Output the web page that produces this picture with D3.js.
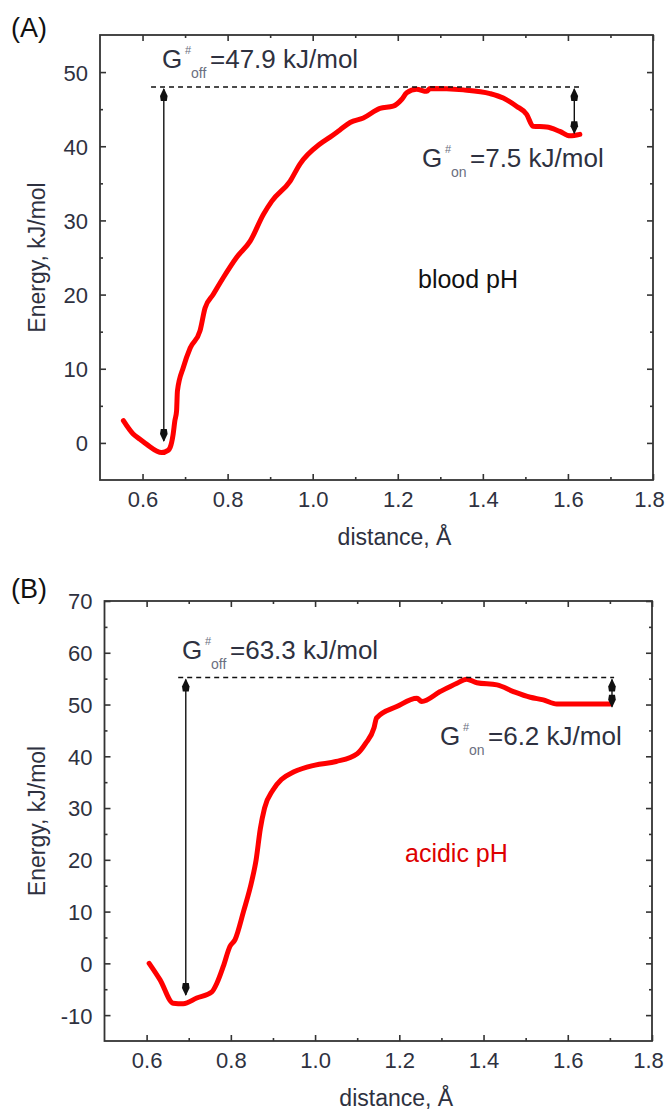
<!DOCTYPE html>
<html>
<head>
<meta charset="utf-8">
<script src="https://cdn.jsdelivr.net/npm/d3@7"></script>
<style>
  body { margin: 0; background: #fff; }
  text { font-family: "Liberation Sans", Arial, sans-serif; }
</style>
</head>
<body>
<svg id="chart" width="667" height="1111"></svg>
<script>
// ---- data ----
const distA = [0.555, 0.578, 0.594, 0.61, 0.645, 0.66, 0.665, 0.672, 0.676, 0.68, 0.682, 0.696, 0.712, 0.735, 0.747, 0.766, 0.79, 0.821, 0.853, 0.884, 0.904, 0.947, 0.97, 1.017, 1.04, 1.064, 1.088, 1.119, 1.158, 1.189, 1.209, 1.221, 1.244, 1.268, 1.276, 1.354, 1.417, 1.448, 1.479, 1.503, 1.518, 1.55, 1.581, 1.605, 1.628];
const energyA = [3.0, 1.2, 0.5, -0.2, -1.3, -1.0, -0.6, 1.2, 3.0, 4.3, 7.0, 10.2, 12.8, 15.1, 18.2, 20.0, 22.3, 25.0, 27.2, 30.8, 32.6, 35.3, 37.6, 40.3, 41.2, 42.2, 43.2, 43.8, 45.1, 45.4, 46.3, 47.2, 47.7, 47.4, 47.8, 47.6, 47.1, 46.5, 45.4, 44.3, 42.7, 42.6, 42.0, 41.4, 41.6];

const distB = [0.606, 0.632, 0.663, 0.687, 0.719, 0.755, 0.767, 0.782, 0.798, 0.81, 0.83, 0.85, 0.86, 0.87, 0.88, 0.9, 0.92, 0.95, 1.0, 1.05, 1.1, 1.12, 1.14, 1.146, 1.194, 1.242, 1.253, 1.297, 1.337, 1.36, 1.384, 1.432, 1.471, 1.511, 1.542, 1.574, 1.701];
const energyB = [0.0, -3.2, -7.7, -7.8, -6.7, -5.5, -3.8, -0.6, 3.3, 4.6, 10, 16, 20, 26, 30, 33.5, 35.5, 37, 38.3, 39, 40.5, 42.5, 45.5, 47.4, 49.6, 51.2, 50.6, 52.5, 54.1, 54.9, 54.2, 53.8, 52.5, 51.4, 50.9, 50.1, 50.1];

const xTicks = [0.6, 0.8, 1.0, 1.2, 1.4, 1.6, 1.8];
const xMinor = [0.7, 0.9, 1.1, 1.3, 1.5, 1.7];
const yTicksA = [0, 10, 20, 30, 40, 50];
const yMinorA = [5, 15, 25, 35, 45];
const yTicksB = [-10, 0, 10, 20, 30, 40, 50, 60, 70];
const yMinorB = [-5, 5, 15, 25, 35, 45, 55, 65];

// barrier annotations: [dash level, dash start, dash end, left arrow x, left arrow bottom, right arrow x, right arrow bottom]
const barrierA = [48.0, 0.62, 1.635, 0.65, 0.0, 1.615, 41.5];
const barrierB = [55.2, 0.675, 1.71, 0.693, -6.5, 1.705, 49.2];
const labelsA = ["47.9", "7.5"];
const labelsB = ["63.3", "6.2"];

const svg = d3.select("#chart");
const ink = "#2e3140";

function drawPanel(p) {
  const x = d3.scaleLinear().domain([0.5, 1.8]).range([p.left, p.right]);
  const y = d3.scaleLinear().domain(p.yDomain).range([p.bottom, p.top]);
  const g = svg.append("g");

  // ticks on all four sides, pointing inward
  const fmtX = d3.format(".1f");
  const bottom = g.append("g").attr("transform", `translate(0,${p.bottom})`)
    .call(d3.axisBottom(x).tickValues(xTicks).tickSize(-6).tickPadding(11).tickFormat(fmtX));
  g.append("g").attr("transform", `translate(0,${p.bottom})`)
    .call(d3.axisBottom(x).tickValues(xMinor).tickSize(-3).tickFormat(""));
  g.append("g").attr("transform", `translate(0,${p.top})`)
    .call(d3.axisTop(x).tickValues(xTicks).tickSize(-6).tickFormat(""));
  g.append("g").attr("transform", `translate(0,${p.top})`)
    .call(d3.axisTop(x).tickValues(xMinor).tickSize(-3).tickFormat(""));
  const left = g.append("g").attr("transform", `translate(${p.left},0)`)
    .call(d3.axisLeft(y).tickValues(p.yTicks).tickSize(-6).tickPadding(12).tickFormat(d => String(d)));
  g.append("g").attr("transform", `translate(${p.left},0)`)
    .call(d3.axisLeft(y).tickValues(p.yMinor).tickSize(-3).tickFormat(""));
  g.append("g").attr("transform", `translate(${p.right},0)`)
    .call(d3.axisRight(y).tickValues(p.yTicks).tickSize(-6).tickFormat(""));
  g.append("g").attr("transform", `translate(${p.right},0)`)
    .call(d3.axisRight(y).tickValues(p.yMinor).tickSize(-3).tickFormat(""));

  g.selectAll(".domain").remove();
  g.selectAll(".tick line").attr("stroke", "#333").attr("stroke-width", 1.6);
  g.selectAll(".tick text").attr("fill", ink).style("font-size", "22px")
    .style("font-family", "'Liberation Sans', Arial, sans-serif");
  left.selectAll(".tick text").attr("dy", "0.36em");
  // last label sits on the frame corner, keep it inside the page
  bottom.selectAll(".tick text").filter(d => d === 1.8).attr("dx", "-4");

  g.append("rect")
    .attr("x", p.left).attr("y", p.top)
    .attr("width", p.right - p.left).attr("height", p.bottom - p.top)
    .attr("fill", "none").attr("stroke", "#333").attr("stroke-width", 1.8);

  // axis titles
  g.append("text").attr("x", (p.left + p.right) / 2 + 18).attr("y", p.bottom + 65)
    .attr("text-anchor", "middle").attr("fill", ink).style("font-size", "23px")
    .text("distance, Å");
  g.append("text")
    .attr("transform", `translate(45,${(p.top + p.bottom) / 2}) rotate(-90)`)
    .attr("text-anchor", "middle").attr("fill", ink).style("font-size", "23px")
    .text("Energy, kJ/mol");
  g.append("text").attr("x", 11).attr("y", p.tag[1]).attr("fill", "#111")
    .style("font-size", "27px").text(p.tag[0]);

  // energy curve
  const line = d3.line().x((d, i) => x(p.xs[i])).y(d => y(d)).curve(d3.curveMonotoneX);
  g.append("path").datum(p.ys)
    .attr("d", line)
    .attr("fill", "none").attr("stroke", "#ff0000")
    .attr("stroke-width", 5).attr("stroke-linejoin", "round").attr("stroke-linecap", "round");

  // dashed reference line and arrows
  const b = p.barrier;
  g.append("line")
    .attr("x1", x(b[1])).attr("x2", x(b[2])).attr("y1", y(b[0])).attr("y2", y(b[0]))
    .attr("stroke", "#111").attr("stroke-width", 1.5).attr("stroke-dasharray", "5,4");

  function arrow(xv, top, bot) {
    const ax = x(xv), y1 = y(top), y2 = y(bot);
    g.append("line").attr("x1", ax).attr("x2", ax).attr("y1", y1 + 2).attr("y2", y2 - 2)
      .attr("stroke", "#111").attr("stroke-width", 1.4);
    g.append("path")
      .attr("d", `M${ax},${y1 + 1} L${ax + 3.8},${y1 + 9} L${ax + 3},${y1 + 14} L${ax - 3},${y1 + 14} L${ax - 3.8},${y1 + 9}Z`)
      .attr("fill", "#111");
    g.append("path")
      .attr("d", `M${ax},${y2 - 1} L${ax + 3.8},${y2 - 9} L${ax + 3},${y2 - 14} L${ax - 3},${y2 - 14} L${ax - 3.8},${y2 - 9}Z`)
      .attr("fill", "#111");
  }
  arrow(b[3], b[0], b[4]);
  arrow(b[5], b[0], b[6]);

  // G# labels
  function gLabel(x0, y0, sub, value) {
    const t = g.append("g").attr("fill", ink);
    t.append("text").attr("x", x0).attr("y", y0).style("font-size", "26px").text("G");
    t.append("text").attr("x", x0 + 23).attr("y", y0 - 14).attr("fill", "#6b6f80").style("font-size", "11px").text("#");
    t.append("text").attr("x", x0 + 29).attr("y", y0 + 10).attr("fill", "#6b6f80").style("font-size", "14px").text(sub);
    t.append("text").attr("x", x0 + 48).attr("y", y0).style("font-size", "26px").text("=" + value + " kJ/mol");
  }
  gLabel(p.offPos[0], p.offPos[1], "off", p.labels[0]);
  gLabel(p.onPos[0], p.onPos[1], "on", p.labels[1]);

  g.append("text").attr("x", p.phPos[0]).attr("y", p.phPos[1])
    .attr("fill", p.phColor).style("font-size", "25px").text(p.ph);
}

drawPanel({
  left: 100, right: 653, top: 35, bottom: 480, yDomain: [-5, 55],
  yTicks: yTicksA, yMinor: yMinorA, xs: distA, ys: energyA,
  barrier: barrierA, labels: labelsA,
  offPos: [162, 68], onPos: [422, 167],
  ph: "blood pH", phColor: "#111", phPos: [418, 288], tag: ["(A)", 37]
});

drawPanel({
  left: 104.5, right: 652, top: 601, bottom: 1041, yDomain: [-15, 70],
  yTicks: yTicksB, yMinor: yMinorB, xs: distB, ys: energyB,
  barrier: barrierB, labels: labelsB,
  offPos: [182, 659], onPos: [440, 745],
  ph: "acidic pH", phColor: "#dd0000", phPos: [405, 862], tag: ["(B)", 598]
});
</script>
</body>
</html>
